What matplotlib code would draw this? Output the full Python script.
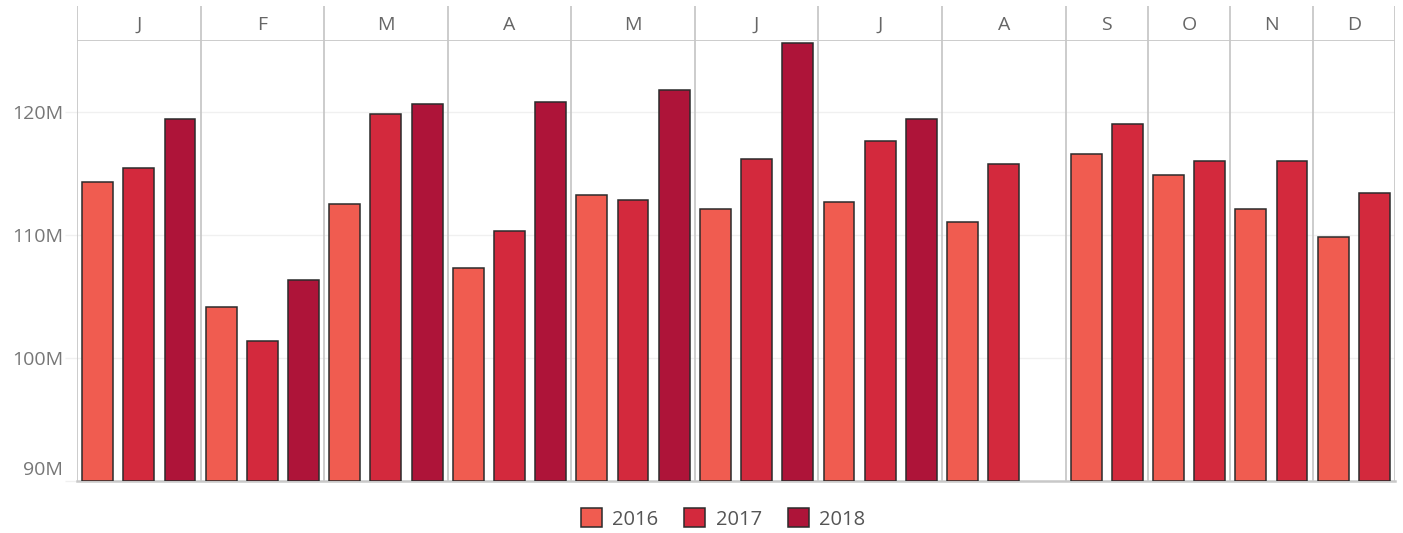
import numpy as np
import matplotlib.pyplot as plt
from matplotlib.patches import Patch
from matplotlib.transforms import blended_transform_factory

plt.rcParams['font.family'] = ['Open Sans', 'DejaVu Sans']

# data (millions)
months = ["J", "F", "M", "A", "M", "J", "J", "A", "S", "O", "N", "D"]
years = ["2016", "2017", "2018"]
v2016 = [114.3, 104.15, 112.5, 107.3, 113.25, 112.1, 112.7, 111.05, 116.6, 114.9, 112.1, 109.8]
v2017 = [115.45, 101.4, 119.85, 110.35, 112.85, 116.2, 117.65, 115.8, 119.05, 116.05, 116.05, 113.4]
v2018 = [119.45, 106.35, 120.65, 120.8, 121.8, 125.6, 119.45, np.nan, np.nan, np.nan, np.nan, np.nan]
slots = [3, 3, 3, 3, 3, 3, 3, 3, 2, 2, 2, 2]
yticks = [90, 100, 110, 120]
colors = ["#F05C50", "#D3293D", "#AE1439"]

W, H = 1403, 533
fig = plt.figure(figsize=(W / 100, H / 100), dpi=100)
left, right = 77 / W, 1395 / W
ax = fig.add_axes([left, 1 - 481 / H, right - left, 440 / H])
hx = fig.add_axes([left, 1 - 41 / H, right - left, 35 / H])

grid_c = "#f0f0f0"
sep_c = "#c8c8c8"

starts = np.concatenate([[0], np.cumsum(slots)])
total = starts[-1]
series = [v2016, v2017, v2018]
for k, vals in enumerate(series):
    for i, v in enumerate(vals):
        if np.isnan(v) or k >= slots[i]:
            continue
        ax.bar(starts[i] + k + 0.5, v - 90, bottom=90, width=0.75,
               color=colors[k], edgecolor="#2b2b2b", linewidth=1.1, zorder=3)

ax.set_xlim(0, total)
ax.set_ylim(90, 90 + 440 / 12.3)
ax.set_xticks([])
ax.set_yticks(yticks)
ax.set_yticklabels([])
ax.tick_params(axis="y", length=9, color=grid_c, width=1)
for y in yticks[1:]:
    ax.axhline(y, color=grid_c, lw=1, zorder=1)

tr = blended_transform_factory(ax.transAxes, ax.transData)
for y in yticks:
    ax.text(-14 / 1318, y + (0.15 if y == 90 else -0.2), f"{y}M",
            transform=tr, ha="right", va="bottom" if y == 90 else "center",
            fontsize=14, color="#777777")

for s in ["top", "right", "left"]:
    ax.spines[s].set_visible(False)
ax.spines["bottom"].set_color(sep_c)
ax.spines["bottom"].set_linewidth(1.8)
for b in starts:
    ax.axvline(b, color=sep_c, lw=1.3, zorder=4)

# header row
hx.set_xlim(0, total)
hx.set_ylim(0, 1)
hx.axis("off")
for b in starts:
    hx.axvline(b, color=sep_c, lw=1.3)
hx.axhline(0, color=sep_c, lw=1.3)
for i, m in enumerate(months):
    hx.text((starts[i] + starts[i + 1]) / 2, 0.45, m, ha="center", va="center",
            fontsize=14, color="#666666")

handles = [Patch(facecolor=c, edgecolor="#2b2b2b", linewidth=1.1, label=y)
           for c, y in zip(colors, years)]
leg = fig.legend(handles=handles, loc="center", bbox_to_anchor=(723 / W, 1 - 519 / H),
                 ncol=3, frameon=False, fontsize=14.5, handlelength=1.05, handleheight=1.05,
                 handletextpad=0.5, columnspacing=1.3)
for t in leg.get_texts():
    t.set_color("#555555")

fig.savefig("out.png", dpi=100)
